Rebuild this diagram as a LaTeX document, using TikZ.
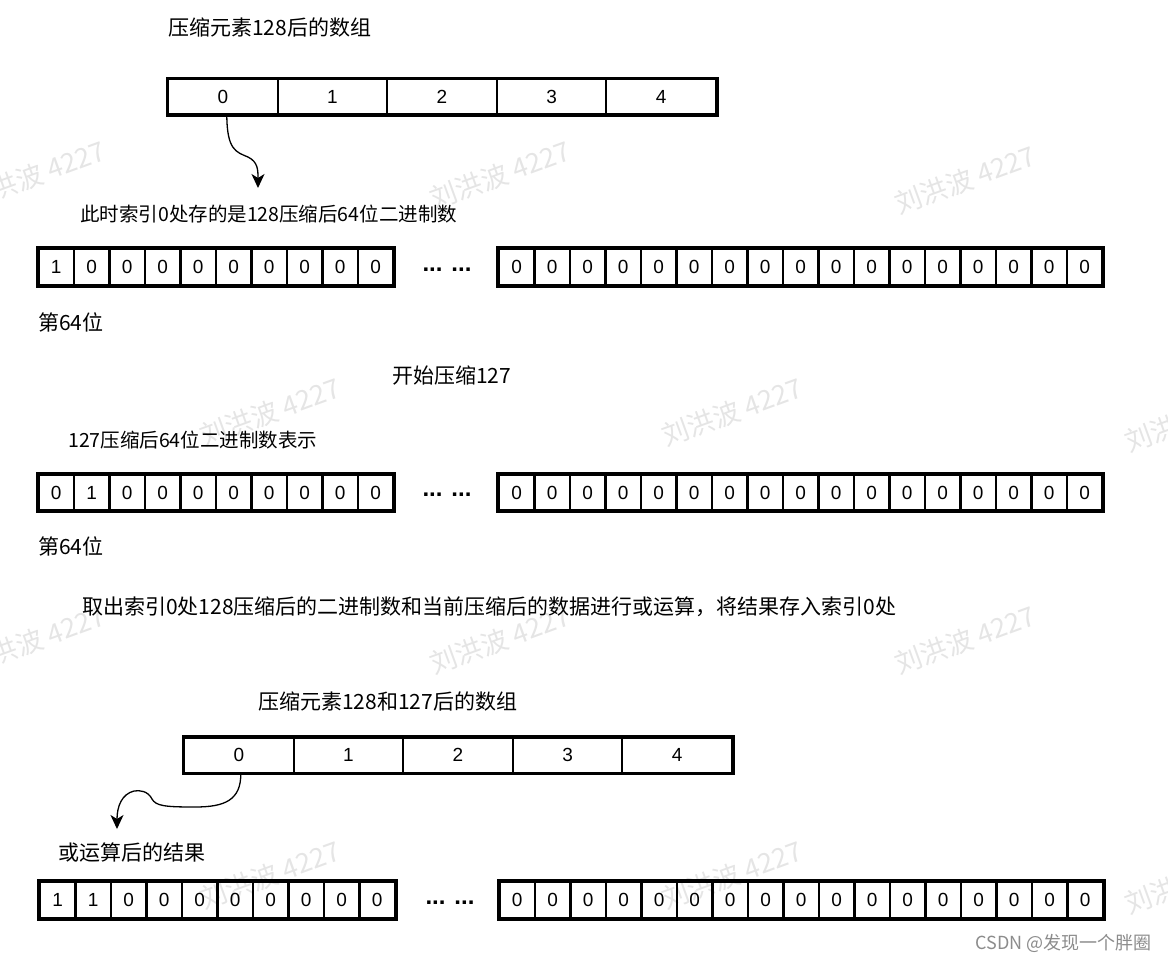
\documentclass[tikz,border=0pt]{standalone}
\usepackage{fontspec}
\setmainfont{Noto Sans CJK SC}
\newfontfamily\lsans{Liberation Sans}
\usetikzlibrary{arrows.meta}
\tikzset{
  idx/.style={draw, line width=2pt, fill=white, minimum width=109.6pt, minimum height=35pt, inner sep=0pt, font=\lsans\fontsize{19}{19}\selectfont},
  bit/.style={draw, line width=2.2pt, fill=white, minimum width=35.5pt, minimum height=36pt, inner sep=0pt, font=\lsans\fontsize{19}{19}\selectfont},
  outer/.style={draw, line width=3pt},
  big/.style={anchor=west, inner sep=0pt, font=\fontsize{21}{21}\selectfont},
  small/.style={anchor=west, inner sep=0pt, font=\fontsize{19.5}{19.5}\selectfont},
  dots/.style={inner sep=0pt, font=\lsans\bfseries\fontsize{24}{24}\selectfont},
  arr/.style={-{Stealth[length=14pt,width=13pt,inset=4pt]}, line width=1.3pt},
  wm/.style={rotate=20, text=black, opacity=0.1, inner sep=0pt, font=\fontsize{27}{27}\selectfont},
}
\begin{document}
\begin{tikzpicture}[x=1pt,y=-1pt]
\useasboundingbox (0,0) rectangle (1168,962);
\fill[white] (0,0) rectangle (1168,962);

% top array
\node[big] (title1) at (168,28) {压缩元素128后的数组};
\foreach \v [count=\i] in {0,1,2,3,4}
  \node[idx] (t\i) at ({168+54.8+(\i-1)*109.6},96.5) {\v};
\draw[outer] (t1.north west) rectangle (t5.south east);

\node[small] (txt2) at (80,214) {此时索引0处存的是128压缩后64位二进制数};
\coordinate (tipA) at (258,188);
\draw[arr] ([xshift=4pt]t1.south) .. controls (227,150) and (236,152) .. (248,157)
  .. controls (258,162) and (258,170) .. (tipA);

% row 1
\foreach \v [count=\i] in {1,0,0,0,0,0,0,0,0,0}
  \node[bit] (a\i) at ({38.5+17.75+(\i-1)*35.5},267) {\v};
\draw[outer] (a1.north west) rectangle (a10.south east);
\node[dots] (d1) at (447,270) {... ...};
\foreach \i in {1,...,17}
  \node[bit] (b\i) at ({499+17.75+(\i-1)*35.5},267) {0};
\draw[outer] (b1.north west) rectangle (b17.south east);
\node[big] (p1) at (38,322) {第64位};

\node[big] (start) at (392,376) {开始压缩127};
\node[small] (txt3) at (68,440) {127压缩后64位二进制数表示};

% row 2
\foreach \v [count=\i] in {0,1,0,0,0,0,0,0,0,0}
  \node[bit] (c\i) at ({38.5+17.75+(\i-1)*35.5},492.5) {\v};
\draw[outer] (c1.north west) rectangle (c10.south east);
\node[dots] (d2) at (447,495) {... ...};
\foreach \i in {1,...,17}
  \node[bit] (e\i) at ({499+17.75+(\i-1)*35.5},492.5) {0};
\draw[outer] (e1.north west) rectangle (e17.south east);
\node[big] (p2) at (38,546) {第64位};

\node[big] (longtxt) at (82,607) {取出索引0处128压缩后的二进制数和当前压缩后的数据进行或运算，将结果存入索引0处};

% bottom array
\node[big] (title3) at (258,701) {压缩元素128和127后的数组};
\foreach \v [count=\i] in {0,1,2,3,4}
  \node[idx] (u\i) at ({184+54.8+(\i-1)*109.6},755) {\v};
\draw[outer] (u1.north west) rectangle (u5.south east);

\node[big] (res) at (58,852) {或运算后的结果};
\coordinate (tipB) at (117,829);
\draw[arr] ([xshift=2pt]u1.south) .. controls (241,800) and (225,807) .. (195,807)
  .. controls (165,807) and (156,806) .. (152,799)
  .. controls (148,791) and (140,790) .. (134,791)
  .. controls (122,794) and (117,806) .. (tipB);

% row 3
\foreach \v [count=\i] in {1,1,0,0,0,0,0,0,0,0}
  \node[bit] (f\i) at ({40+17.75+(\i-1)*35.5},900) {\v};
\draw[outer] (f1.north west) rectangle (f10.south east);
\node[dots] (d3) at (450,903) {... ...};
\foreach \i in {1,...,17}
  \node[bit] (g\i) at ({499.5+17.75+(\i-1)*35.5},900) {0};
\draw[outer] (g1.north west) rectangle (g17.south east);

\node[anchor=east, inner sep=0pt, text=black!45, font=\fontsize{18}{18}\selectfont] (csdn) at (1152,943) {CSDN @发现一个胖圈};

% watermarks
\begin{scope}
\clip (0,0) rectangle (1168,962);
\node[wm] (w1) at (35,175) {刘洪波 4227};
\node[wm] (w2) at (500,175) {刘洪波 4227};
\node[wm] (w3) at (965,180) {刘洪波 4227};
\node[wm] (w4) at (270,412) {刘洪波 4227};
\node[wm] (w5) at (732,412) {刘洪波 4227};
\node[wm] (w6) at (1195,418) {刘洪波 4227};
\node[wm] (w7) at (35,640) {刘洪波 4227};
\node[wm] (w8) at (500,640) {刘洪波 4227};
\node[wm] (w9) at (965,640) {刘洪波 4227};
\node[wm] (w10) at (270,875) {刘洪波 4227};
\node[wm] (w11) at (732,875) {刘洪波 4227};
\node[wm] (w12) at (1195,880) {刘洪波 4227};
\end{scope}
\end{tikzpicture}
\end{document}
